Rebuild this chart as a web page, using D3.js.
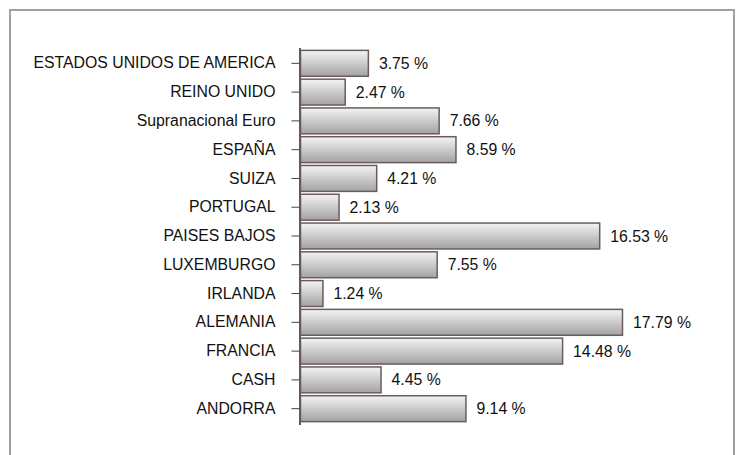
<!DOCTYPE html>
<html>
<head>
<meta charset="utf-8">
<script src="https://cdn.jsdelivr.net/npm/d3@7"></script>
<style>
  body { margin: 0; background: #fff; }
  text { font-family: "Liberation Sans", Arial, sans-serif; fill: #111; }
</style>
</head>
<body>
<script>
const width = 741;
const height = 455;

const categories = [
  "ESTADOS UNIDOS DE AMERICA", "REINO UNIDO", "Supranacional Euro", "ESPAÑA",
  "SUIZA", "PORTUGAL", "PAISES BAJOS", "LUXEMBURGO", "IRLANDA",
  "ALEMANIA", "FRANCIA", "CASH", "ANDORRA"
];
const values = [3.75, 2.47, 7.66, 8.59, 4.21, 2.13, 16.53, 7.55, 1.24, 17.79, 14.48, 4.45, 9.14];

const svg = d3.select("body").append("svg")
  .attr("width", width)
  .attr("height", height);

// gradient for the bars
const grad = svg.append("defs").append("linearGradient")
  .attr("id", "barGrad")
  .attr("x1", 0).attr("y1", 0).attr("x2", 0).attr("y2", 1);
grad.append("stop").attr("offset", "0%").attr("stop-color", "#f4f4f4");
grad.append("stop").attr("offset", "100%").attr("stop-color", "#a2a2a2");

// frame
svg.append("rect")
  .attr("x", 10).attr("y", 10)
  .attr("width", 724).attr("height", 460)
  .attr("fill", "none")
  .attr("stroke", "#a0a0a0")
  .attr("stroke-width", 2);

const x = d3.scaleLinear().domain([0, 20]).range([300, 662]);
const y = d3.scaleBand().domain(categories).range([47.5, 424.5]).padding(0.1);

const yAxis = svg.append("g")
  .attr("transform", "translate(299.5,0)")
  .call(d3.axisLeft(y).tickSize(8).tickSizeOuter(0).tickPadding(16));
yAxis.select(".domain").attr("stroke", "#222").attr("stroke-width", 1.5);
yAxis.selectAll(".tick line").attr("stroke", "#444");
yAxis.selectAll(".tick text")
  .style("font-size", "15.8px")
  .style("font-family", "'Liberation Sans', Arial, sans-serif")
  .attr("fill", "#111");

svg.append("g").selectAll("rect")
  .data(values)
  .join("rect")
  .attr("x", x(0) + 0.5)
  .attr("y", (d, i) => y(categories[i]))
  .attr("width", d => x(d) - x(0))
  .attr("height", y.bandwidth())
  .attr("fill", "url(#barGrad)")
  .attr("stroke", "#6a5c5c")
  .attr("stroke-width", 1.5);

svg.append("g").selectAll("text")
  .data(values)
  .join("text")
  .attr("x", d => x(d) + 11)
  .attr("y", (d, i) => y(categories[i]) + y.bandwidth() / 2)
  .attr("dy", "0.35em")
  .style("font-size", "15.8px")
  .text(d => d.toFixed(2) + " %");
</script>
</body>
</html>
